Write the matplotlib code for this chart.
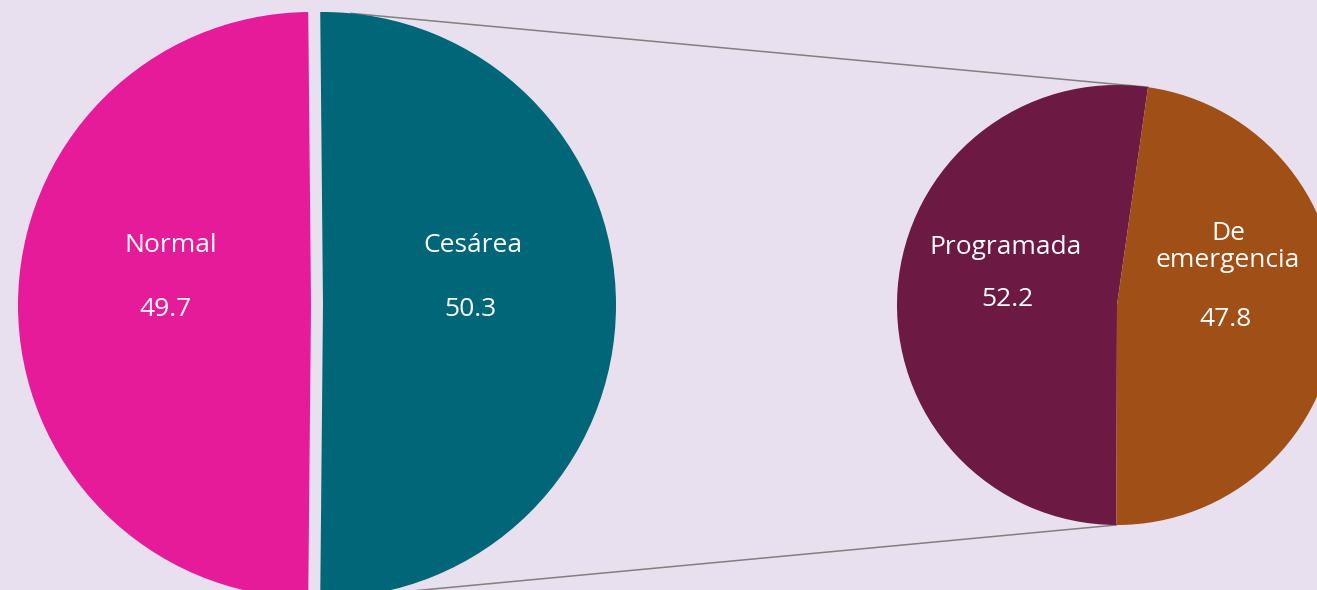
import matplotlib
matplotlib.use("Agg")
import matplotlib.pyplot as plt
import numpy as np

# ---- data ----
main_labels = ["Normal", "Cesárea"]
main_values = [49.7, 50.3]
sub_labels = ["Programada", "De\nemergencia"]
sub_values = [52.2, 47.8]

# ---- style ----
main_colors = ["#E61B9A", "#006678"]
sub_colors = ["#6C1943", "#A04F16"]
bg = "#E8E0EE"
W, H = 1317, 590

plt.rcParams['font.family'] = ['Open Sans', 'DejaVu Sans']

fig = plt.figure(figsize=(W / 100, H / 100), dpi=100, facecolor=bg)
ax = fig.add_axes([0, 0, 1, 1])
ax.set_facecolor(bg)

# left pie (pixel coords, y measured from bottom)
c1 = (311, H - 305)
r1 = 293
gap = 12
start1 = 90 + (50 - main_values[0]) / 100 * 180
ax.pie(main_values, colors=main_colors, startangle=start1, counterclock=True,
       center=c1, radius=r1, explode=[0, gap],
       wedgeprops=dict(linewidth=0))

# right pie
c2 = (1117, H - 305)
r2 = 220
start2 = 81.9
ax.pie(sub_values, colors=sub_colors, startangle=start2, counterclock=True,
       center=c2, radius=r2, wedgeprops=dict(linewidth=0))

# connector lines
cx_exp = c1[0] + gap
th = np.deg2rad(84.5)
p_top = (cx_exp + r1 * np.cos(th), c1[1] + r1 * np.sin(th))
p_bot = (cx_exp + r1 * np.cos(-th), c1[1] + r1 * np.sin(-th))
t2 = np.deg2rad(start2)
q_top = (c2[0] + r2 * np.cos(t2), c2[1] + r2 * np.sin(t2))
t3 = np.deg2rad(start2 + sub_values[0] / 100 * 360)
q_bot = (c2[0] + r2 * np.cos(t3), c2[1] + r2 * np.sin(t3))
ax.plot([p_top[0], q_top[0]], [p_top[1], q_top[1]], color="#808080", lw=1.1, zorder=0.5)
ax.plot([p_bot[0], q_bot[0]], [p_bot[1], q_bot[1]], color="#808080", lw=1.1, zorder=0.5)

# labels
fs = 19
label_pos_main = [(171, 245), (473, 245)]
value_pos_main = [(165, 309), (470, 309)]
label_pos_sub = [(1005, 247), (1228, 247)]
value_pos_sub = [(1007, 300), (1226, 319)]
for lab, v, lp, vp in zip(main_labels, main_values, label_pos_main, value_pos_main):
    ax.text(lp[0], H - lp[1], lab, color="white", fontsize=fs, ha="center", va="center")
    ax.text(vp[0], H - vp[1], f"{v:.1f}", color="white", fontsize=fs, ha="center", va="center")
for lab, v, lp, vp in zip(sub_labels, sub_values, label_pos_sub, value_pos_sub):
    ax.text(lp[0], H - lp[1], lab, color="white", fontsize=fs, ha="center", va="center",
            linespacing=1.1)
    ax.text(vp[0], H - vp[1], f"{v:.1f}", color="white", fontsize=fs, ha="center", va="center")

ax.set_xlim(0, W)
ax.set_ylim(0, H)
ax.set_aspect("equal")
ax.axis("off")

fig.savefig("out.png", dpi=100, facecolor=bg)
